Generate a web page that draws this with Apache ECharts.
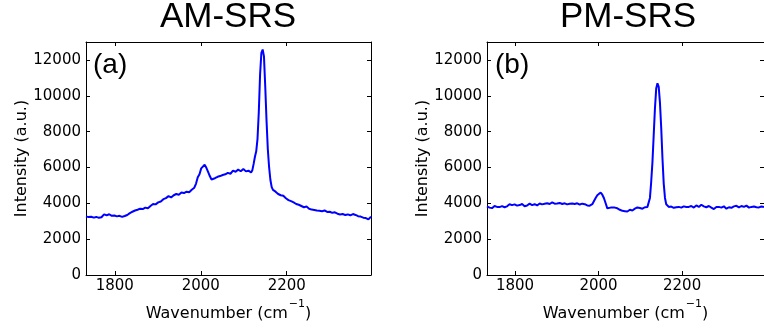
<!DOCTYPE html>
<html>
<head>
<meta charset="utf-8">
<script src="https://cdn.jsdelivr.net/npm/echarts@6/dist/echarts.min.js"></script>
<style>
  html, body { margin: 0; padding: 0; background: #fff; }
  #container { width: 764px; height: 329px; }
</style>
</head>
<body>
<div id="container"></div>
<script>
const dom = document.getElementById('container')
const myChart = echarts.init(dom, null, { renderer: 'canvas' })

const titles = ['AM-SRS', 'PM-SRS']
const panelTags = ['(a)', '(b)']

const xTicks = [1800, 2000, 2200]
const yTicks = [0, 2000, 4000, 6000, 8000, 10000, 12000]

// wavenumber grid (cm^-1), shared by both spectra
const wavenumber = [
  1733, 1739, 1745, 1751, 1757, 1763, 1769, 1775, 1781, 1787, 1793, 1799, 1805, 1811, 1817,
  1823, 1829, 1835, 1841, 1847, 1853, 1859, 1865, 1871, 1877, 1883, 1889, 1895, 1901, 1907,
  1913, 1919, 1925, 1931, 1937, 1943, 1949, 1955, 1961, 1967, 1973, 1979, 1985,
  1989, 1993, 1997, 2001, 2005, 2009, 2013, 2017, 2021, 2025, 2029, 2033,
  2039, 2045, 2051, 2057, 2063, 2069, 2075, 2081, 2087, 2093, 2099, 2105, 2111, 2117,
  2120, 2123, 2126, 2129, 2132, 2135, 2138, 2141, 2144, 2147, 2150, 2153, 2156, 2159, 2162, 2165, 2168,
  2174, 2180, 2186, 2192, 2198, 2204, 2210, 2216, 2222, 2228, 2234, 2240, 2246, 2252, 2258,
  2264, 2270, 2276, 2282, 2288, 2294, 2300, 2306, 2312, 2318, 2324, 2330, 2336, 2342, 2348,
  2354, 2360, 2366, 2372, 2378, 2384, 2390, 2396
]

// AM-SRS intensity (a.u.)
const intensityAM = [
  3270, 3230, 3250, 3200, 3240, 3190, 3220, 3380, 3330, 3390, 3300, 3320, 3270, 3300, 3240,
  3290, 3350, 3450, 3530, 3600, 3640, 3700, 3680, 3760, 3720, 3850, 3960, 3940, 4050, 4100,
  4230, 4290, 4400, 4330, 4450, 4520, 4480, 4600, 4570, 4650, 4620, 4760, 4870,
  5100, 5450, 5620, 5950, 6050, 6150, 5980, 5750, 5520, 5330, 5350, 5400,
  5480, 5520, 5580, 5620, 5700, 5650, 5820, 5760, 5880, 5790, 5920, 5780, 5820, 5720,
  5850, 6200, 6600, 6900, 7600, 9100, 11200, 12400, 12580, 12200, 10500, 8600, 7000, 6000, 5300, 4900, 4750,
  4650, 4520, 4450, 4420, 4280, 4180, 4120, 4050, 3960, 3920, 3850, 3780, 3820, 3700, 3650,
  3630, 3600, 3580, 3560, 3600, 3520, 3530, 3470, 3500, 3420, 3380, 3400, 3350, 3380, 3330,
  3400, 3350, 3280, 3260, 3200, 3180, 3100, 3260
]

// PM-SRS intensity (a.u.)
const intensityPM = [
  3830, 3760, 3730, 3850, 3800, 3790, 3840, 3780, 3830, 3950, 3900, 3940, 3870, 3900, 3960,
  3840, 3880, 3980, 3900, 3950, 3880, 3990, 3940, 3970, 4000, 3960, 4050, 3980, 3990, 4020,
  3960, 4000, 3940, 3980, 3990, 3960, 4000, 3930, 3980, 3950, 3880, 3870, 3950,
  4050, 4300, 4450, 4550, 4600, 4480, 4280, 4000, 3720, 3650, 3760, 3700,
  3760, 3720, 3640, 3580, 3560, 3540, 3640, 3600, 3700, 3770, 3740, 3700, 3780, 3800,
  3900, 4300, 5200, 6300, 7800, 9300, 10400, 10700, 10500, 9600, 8200, 6500, 5100, 4300, 3950, 3850, 3800,
  3820, 3750, 3780, 3800, 3760, 3830, 3790, 3800, 3850, 3760, 3880, 3800, 3920, 3830, 3780,
  3850, 3760, 3680, 3790, 3800, 3760, 3830, 3700, 3780, 3750, 3830, 3860, 3770, 3850, 3800,
  3870, 3760, 3800, 3820, 3780, 3770, 3820, 3790
]

const xMin = 1733
const xMax = 2396
const yMin = 0
const yMax = 13000

const tickFont = 'DejaVu Sans'
const plainNumber = (v) => String(v)
const grids = [
  { left: 86, top: 42, width: 285, height: 233 },
  { left: 487, top: 42, width: 284, height: 233 }
]

const xAxes = []
const yAxes = []
grids.forEach((g, i) => {
  // bottom axis with labels
  xAxes.push({
    type: 'value', gridIndex: i, min: xMin, max: xMax, position: 'bottom',
    name: '{n|Wavenumber (cm}{s|−1}{n|)}',
    nameLocation: 'middle', nameGap: 20,
    nameTextStyle: {
      rich: {
        n: { fontFamily: tickFont, fontSize: 16, color: '#000' },
        s: { fontFamily: tickFont, fontSize: 11, color: '#000', padding: [0, 0, 18, 1] }
      }
    },
    axisLine: { show: true, lineStyle: { color: '#000', width: 1 } },
    axisTick: { show: true, inside: true, length: 4, customValues: xTicks, lineStyle: { color: '#000' } },
    axisLabel: { show: true, customValues: xTicks, formatter: plainNumber, margin: 4, color: '#000', fontFamily: tickFont, fontSize: 15 },
    splitLine: { show: false }
  })
  // top axis, ticks only
  xAxes.push({
    type: 'value', gridIndex: i, min: xMin, max: xMax, position: 'top',
    axisLine: { show: true, onZero: false, lineStyle: { color: '#000', width: 1 } },
    axisTick: { show: true, inside: true, length: 4, customValues: xTicks, lineStyle: { color: '#000' } },
    axisLabel: { show: false },
    splitLine: { show: false }
  })
  // left axis with labels
  yAxes.push({
    type: 'value', gridIndex: i, min: yMin, max: yMax, position: 'left',
    name: 'Intensity (a.u.)', nameLocation: 'middle', nameGap: 54,
    nameTextStyle: { fontFamily: tickFont, fontSize: 16, color: '#000' },
    axisLine: { show: true, onZero: false, lineStyle: { color: '#000', width: 1 } },
    axisTick: { show: true, inside: true, length: 4, customValues: yTicks, lineStyle: { color: '#000' } },
    axisLabel: { show: true, customValues: yTicks, formatter: plainNumber, margin: 5, color: '#000', fontFamily: tickFont, fontSize: 15 },
    splitLine: { show: false }
  })
  // right axis, ticks only
  yAxes.push({
    type: 'value', gridIndex: i, min: yMin, max: yMax, position: 'right',
    axisLine: { show: true, onZero: false, lineStyle: { color: '#000', width: 1 } },
    axisTick: { show: true, inside: true, length: 4, customValues: yTicks, lineStyle: { color: '#000' } },
    axisLabel: { show: false },
    splitLine: { show: false }
  })
})

const spectra = [intensityAM, intensityPM]

const option = {
  backgroundColor: '#fff',
  animation: false,
  title: [
    { text: titles[0], left: 228, top: 0, textAlign: 'center', padding: 0,
      textStyle: { fontFamily: 'Liberation Sans', fontSize: 35, fontWeight: 'normal', color: '#000' } },
    { text: titles[1], left: 628, top: 0, textAlign: 'center', padding: 0,
      textStyle: { fontFamily: 'Liberation Sans', fontSize: 35, fontWeight: 'normal', color: '#000' } },
    { text: panelTags[0], left: 93, top: 51, padding: 0,
      textStyle: { fontFamily: 'Liberation Sans', fontSize: 28, fontWeight: 'normal', color: '#000' } },
    { text: panelTags[1], left: 495, top: 51, padding: 0,
      textStyle: { fontFamily: 'Liberation Sans', fontSize: 28, fontWeight: 'normal', color: '#000' } }
  ],
  grid: grids,
  xAxis: xAxes,
  yAxis: yAxes,
  series: spectra.map((vals, i) => ({
    type: 'line',
    xAxisIndex: i * 2,
    yAxisIndex: i * 2,
    data: wavenumber.map((w, k) => [w, vals[k]]),
    showSymbol: false,
    smooth: false,
    lineStyle: { color: '#0000ff', width: 2 },
    clip: true
  }))
}

myChart.setOption(option)
</script>
</body>
</html>
